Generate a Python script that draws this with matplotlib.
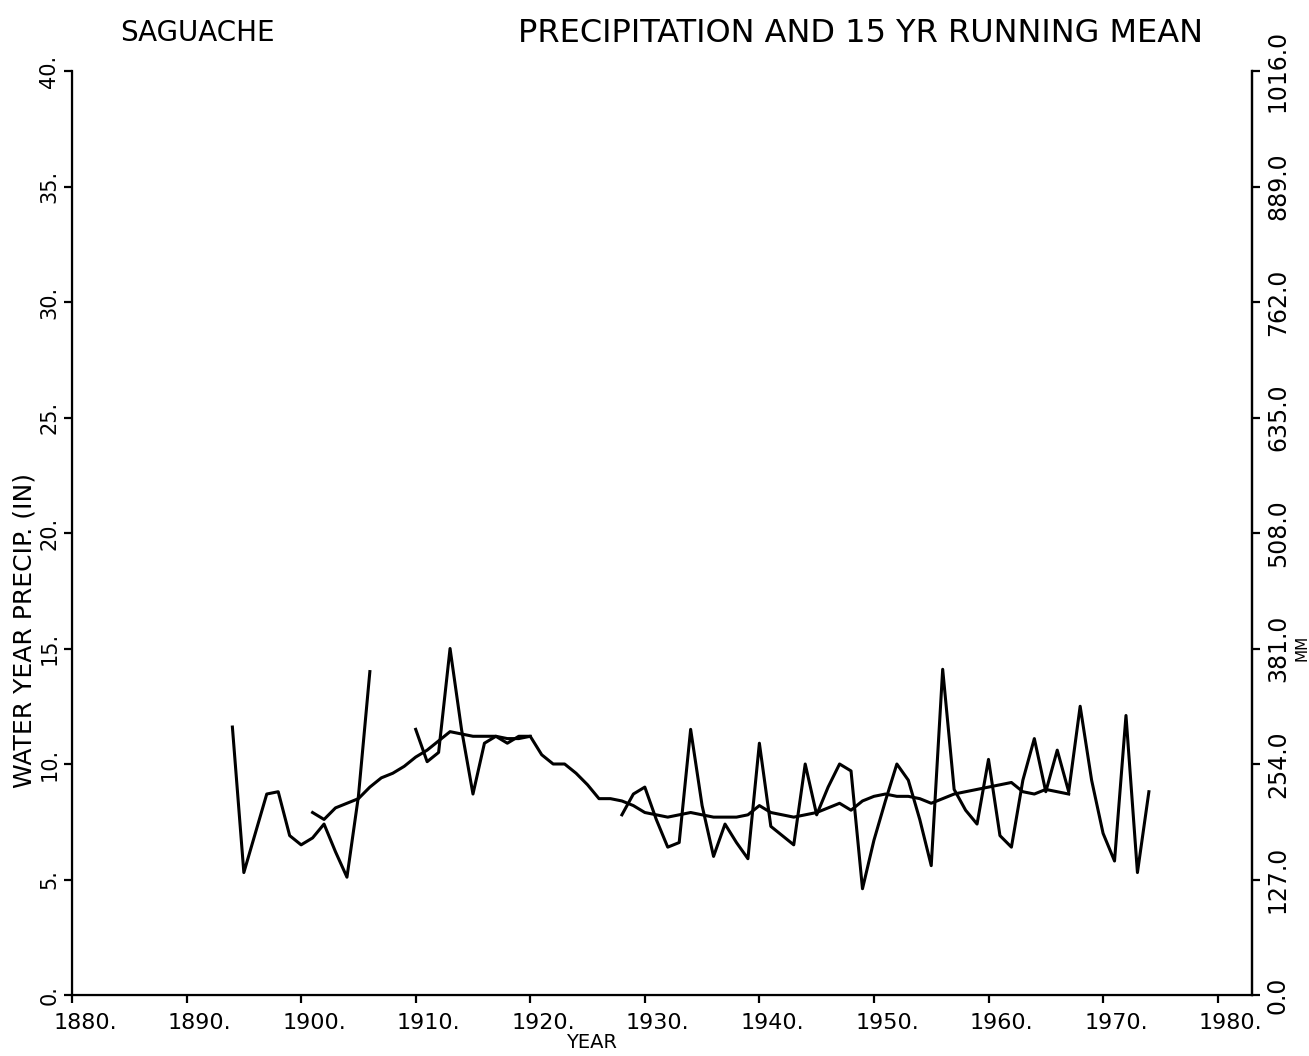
import numpy as np
from matplotlib import pyplot as plt
from matplotlib import transforms

# water year precipitation (inches), NaN where no record
years = list(range(1894, 1975))
precip = [11.6, 5.3, 7.0, 8.7, 8.8, 6.9, 6.5, 6.8, 7.4, 6.2,      # 1894-1903
          5.1, 8.6, 14.0, np.nan, np.nan, np.nan,                   # 1904-1909
          11.5, 10.1, 10.5, 15.0, 11.5, 8.7, 10.9, 11.2, 10.9, 11.2,  # 1910-1919
          11.2, np.nan, np.nan, np.nan, np.nan, np.nan, np.nan, np.nan,  # 1920-1927
          7.8, 8.7, 9.0, 7.6, 6.4, 6.6, 11.5, 8.2, 6.0, 7.4, 6.6, 5.9,  # 1928-1939
          10.9, 7.3, 6.9, 6.5, 10.0, 7.8, 9.0, 10.0, 9.7, 4.6,      # 1940-1949
          6.7, 8.4, 10.0, 9.3, 7.6, 5.6, 14.1, 8.9, 8.0, 7.4,       # 1950-1959
          10.2, 6.9, 6.4, 9.3, 11.1, 8.8, 10.6, 8.8, 12.5, 9.3,     # 1960-1969
          7.0, 5.8, 12.1, 5.3, 8.8]                                 # 1970-1974

# 15 yr running mean (inches)
mean_years = list(range(1901, 1968))
mean_vals = [7.9, 7.6, 8.1, 8.3, 8.5, 9.0, 9.4, 9.6, 9.9,          # 1901-1909
             10.3, 10.6, 11.0, 11.4, 11.3, 11.2, 11.2, 11.2, 11.1, 11.1,  # 1910-1919
             11.2, 10.4, 10.0, 10.0, 9.6, 9.1, 8.5, 8.5, 8.4, 8.2,   # 1920-1929
             7.9, 7.8, 7.7, 7.8, 7.9, 7.8, 7.7, 7.7, 7.7, 7.8,       # 1930-1939
             8.2, 7.9, 7.8, 7.7, 7.8, 7.9, 8.1, 8.3, 8.0, 8.4,       # 1940-1949
             8.6, 8.7, 8.6, 8.6, 8.5, 8.3, 8.5, 8.7, 8.8, 8.9,       # 1950-1959
             9.0, 9.1, 9.2, 8.8, 8.7, 8.9, 8.8, 8.7]                 # 1960-1967

x_ticks = list(range(1880, 1990, 10))
x_labels = [str(y) + '.' for y in x_ticks]
y_ticks = list(range(0, 45, 5))
y_labels = [str(v) + '.' for v in y_ticks]
mm_ticks = [v * 25.4 for v in y_ticks]
mm_labels = ['%.1f' % v for v in mm_ticks]

W, H = 1309, 1056
fig = plt.figure(figsize=(W / 100, H / 100), dpi=100)
ax = fig.add_axes([72 / W, 1 - 995 / H, (1252 - 72) / W, (995 - 71) / H])

ax.plot(years, precip, color='black', lw=2.2)
ax.plot(mean_years, mean_vals, color='black', lw=2.2)

ax.set_xlim(1880, 1983)
ax.set_ylim(0, 40)
ax.spines['top'].set_visible(False)
for s in ['left', 'bottom', 'right']:
    ax.spines[s].set_linewidth(1.6)

ax.set_xticks(x_ticks)
ax.set_xticklabels(x_labels, fontsize=16)
ax.set_yticks(y_ticks)
ax.set_yticklabels(y_labels, fontsize=15, rotation=90, va='center')
ax.tick_params(axis='both', direction='out', length=6, width=1.6, pad=3)
ax.tick_params(axis='x', pad=7)
# plotter put the year labels a bit right of the tick
shift = transforms.ScaledTranslation(13 / 100, 0, fig.dpi_scale_trans)
for lab in ax.get_xticklabels():
    lab.set_transform(lab.get_transform() + shift)

ax2 = ax.twinx()
ax2.set_ylim(0, 1016)
ax2.spines['top'].set_visible(False)
ax2.spines['right'].set_linewidth(1.6)
ax2.set_yticks(mm_ticks)
ax2.set_yticklabels(mm_labels, fontsize=17, rotation=90, va='center')
ax2.tick_params(axis='y', direction='out', length=6, width=1.6, pad=4)

fig.text(25 / W, 1 - 630 / H, 'WATER YEAR PRECIP. (IN)', rotation=90,
         ha='center', va='center', fontsize=18)
fig.text(1302 / W, 1 - 648 / H, 'MM', rotation=90, ha='center', va='center', fontsize=11)
fig.text(592 / W, 1 - 1042 / H, 'YEAR', ha='center', va='center', fontsize=14)
fig.text(197 / W, 1 - 33 / H, 'SAGUACHE', ha='center', va='center', fontsize=20)
fig.text(860 / W, 1 - 33 / H, 'PRECIPITATION AND 15 YR RUNNING MEAN',
         ha='center', va='center', fontsize=23)

fig.savefig('out.png', dpi=100, facecolor='white')
